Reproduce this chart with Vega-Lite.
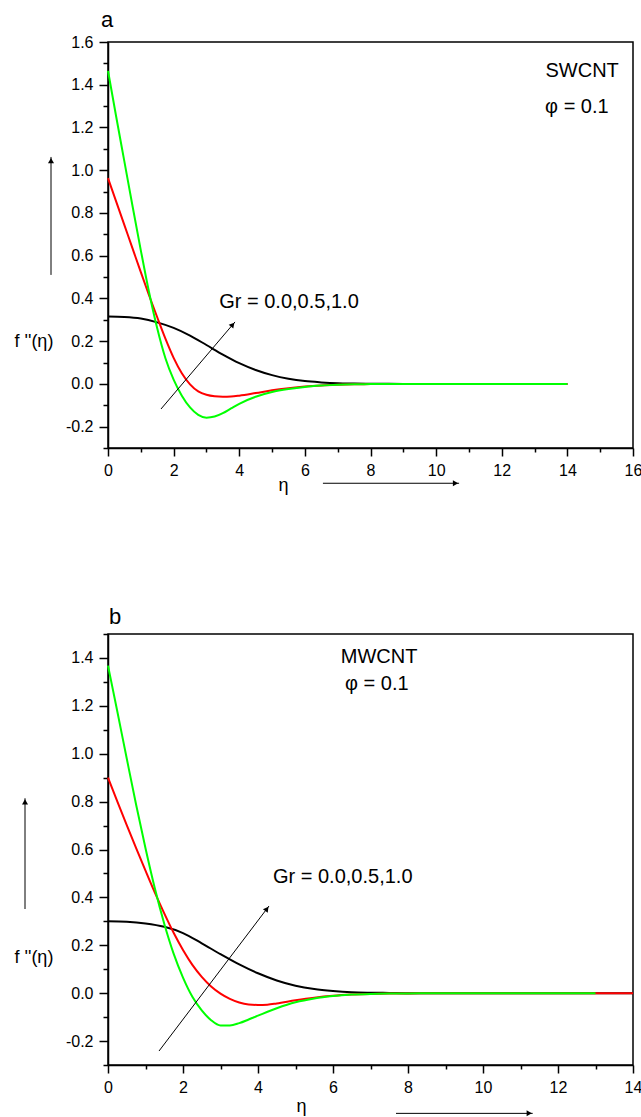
{
  "$schema": "https://vega.github.io/schema/vega-lite/v6.json",
  "padding": {"left": 13, "top": 7, "right": 0, "bottom": 0},
  "background": "white",
  "config": {
    "font": "Liberation Sans",
    "view": {"stroke": "black", "strokeWidth": 1.5},
    "axis": {"grid": false, "domainColor": "black", "domainWidth": 1.5, "tickColor": "black", "tickWidth": 1.5, "labelColor": "black", "labelFontSize": 16, "labelFont": "Liberation Sans", "titleColor": "black", "titleFont": "Liberation Sans", "titleFontWeight": "normal", "titleFontSize": 18, "labelFlush": false, "labelOverlap": false}
  },
  "datasets": {
    "curvesA": [
      {"eta": 0, "Gr": "0.0", "f": 0.315}, {"eta": 0.5, "Gr": "0.0", "f": 0.313}, {"eta": 1.0, "Gr": "0.0", "f": 0.306}, {"eta": 1.5, "Gr": "0.0", "f": 0.288}, {"eta": 2.0, "Gr": "0.0", "f": 0.262}, {"eta": 2.5, "Gr": "0.0", "f": 0.226}, {"eta": 3.0, "Gr": "0.0", "f": 0.182}, {"eta": 3.5, "Gr": "0.0", "f": 0.137}, {"eta": 4.0, "Gr": "0.0", "f": 0.097}, {"eta": 4.5, "Gr": "0.0", "f": 0.065}, {"eta": 5.0, "Gr": "0.0", "f": 0.041}, {"eta": 5.5, "Gr": "0.0", "f": 0.024}, {"eta": 6.0, "Gr": "0.0", "f": 0.013}, {"eta": 6.5, "Gr": "0.0", "f": 0.007}, {"eta": 7.0, "Gr": "0.0", "f": 0.003}, {"eta": 7.5, "Gr": "0.0", "f": 0.0015}, {"eta": 8.0, "Gr": "0.0", "f": 0.0005}, {"eta": 9.0, "Gr": "0.0", "f": 0}, {"eta": 10.0, "Gr": "0.0", "f": 0}, {"eta": 12.0, "Gr": "0.0", "f": 0}, {"eta": 14.0, "Gr": "0.0", "f": 0},
      {"eta": 0, "Gr": "0.5", "f": 0.963}, {"eta": 0.25, "Gr": "0.5", "f": 0.853}, {"eta": 0.5, "Gr": "0.5", "f": 0.743}, {"eta": 0.75, "Gr": "0.5", "f": 0.633}, {"eta": 1.0, "Gr": "0.5", "f": 0.523}, {"eta": 1.25, "Gr": "0.5", "f": 0.415}, {"eta": 1.5, "Gr": "0.5", "f": 0.312}, {"eta": 1.75, "Gr": "0.5", "f": 0.212}, {"eta": 2.0, "Gr": "0.5", "f": 0.122}, {"eta": 2.25, "Gr": "0.5", "f": 0.05}, {"eta": 2.5, "Gr": "0.5", "f": -0.002}, {"eta": 2.75, "Gr": "0.5", "f": -0.035}, {"eta": 3.0, "Gr": "0.5", "f": -0.051}, {"eta": 3.25, "Gr": "0.5", "f": -0.058}, {"eta": 3.5, "Gr": "0.5", "f": -0.06}, {"eta": 3.75, "Gr": "0.5", "f": -0.059}, {"eta": 4.0, "Gr": "0.5", "f": -0.055}, {"eta": 4.5, "Gr": "0.5", "f": -0.043}, {"eta": 5.0, "Gr": "0.5", "f": -0.03}, {"eta": 5.5, "Gr": "0.5", "f": -0.02}, {"eta": 6.0, "Gr": "0.5", "f": -0.012}, {"eta": 6.5, "Gr": "0.5", "f": -0.007}, {"eta": 7.0, "Gr": "0.5", "f": -0.004}, {"eta": 7.5, "Gr": "0.5", "f": -0.002}, {"eta": 8.0, "Gr": "0.5", "f": -0.001}, {"eta": 9.0, "Gr": "0.5", "f": 0}, {"eta": 10.0, "Gr": "0.5", "f": 0}, {"eta": 12.0, "Gr": "0.5", "f": 0}, {"eta": 14.0, "Gr": "0.5", "f": 0},
      {"eta": 0, "Gr": "1.0", "f": 1.465}, {"eta": 0.25, "Gr": "1.0", "f": 1.25}, {"eta": 0.5, "Gr": "1.0", "f": 1.04}, {"eta": 0.75, "Gr": "1.0", "f": 0.83}, {"eta": 1.0, "Gr": "1.0", "f": 0.625}, {"eta": 1.25, "Gr": "1.0", "f": 0.43}, {"eta": 1.5, "Gr": "1.0", "f": 0.26}, {"eta": 1.75, "Gr": "1.0", "f": 0.12}, {"eta": 2.0, "Gr": "1.0", "f": 0.02}, {"eta": 2.25, "Gr": "1.0", "f": -0.055}, {"eta": 2.5, "Gr": "1.0", "f": -0.11}, {"eta": 2.75, "Gr": "1.0", "f": -0.145}, {"eta": 3.0, "Gr": "1.0", "f": -0.158}, {"eta": 3.25, "Gr": "1.0", "f": -0.153}, {"eta": 3.5, "Gr": "1.0", "f": -0.137}, {"eta": 3.75, "Gr": "1.0", "f": -0.115}, {"eta": 4.0, "Gr": "1.0", "f": -0.093}, {"eta": 4.5, "Gr": "1.0", "f": -0.06}, {"eta": 5.0, "Gr": "1.0", "f": -0.038}, {"eta": 5.5, "Gr": "1.0", "f": -0.024}, {"eta": 6.0, "Gr": "1.0", "f": -0.014}, {"eta": 6.5, "Gr": "1.0", "f": -0.008}, {"eta": 7.0, "Gr": "1.0", "f": -0.004}, {"eta": 7.5, "Gr": "1.0", "f": -0.002}, {"eta": 8.0, "Gr": "1.0", "f": -0.001}, {"eta": 9.0, "Gr": "1.0", "f": 0}, {"eta": 10.0, "Gr": "1.0", "f": 0}, {"eta": 12.0, "Gr": "1.0", "f": 0}, {"eta": 14.0, "Gr": "1.0", "f": 0}
    ],
    "curvesB": [
      {"eta": 0, "Gr": "0.0", "f": 0.30}, {"eta": 0.5, "Gr": "0.0", "f": 0.298}, {"eta": 1.0, "Gr": "0.0", "f": 0.291}, {"eta": 1.5, "Gr": "0.0", "f": 0.277}, {"eta": 2.0, "Gr": "0.0", "f": 0.251}, {"eta": 2.5, "Gr": "0.0", "f": 0.208}, {"eta": 3.0, "Gr": "0.0", "f": 0.163}, {"eta": 3.5, "Gr": "0.0", "f": 0.12}, {"eta": 4.0, "Gr": "0.0", "f": 0.083}, {"eta": 4.5, "Gr": "0.0", "f": 0.053}, {"eta": 5.0, "Gr": "0.0", "f": 0.031}, {"eta": 5.5, "Gr": "0.0", "f": 0.017}, {"eta": 6.0, "Gr": "0.0", "f": 0.009}, {"eta": 6.5, "Gr": "0.0", "f": 0.004}, {"eta": 7.0, "Gr": "0.0", "f": 0.002}, {"eta": 7.5, "Gr": "0.0", "f": 0.001}, {"eta": 8.0, "Gr": "0.0", "f": 0}, {"eta": 10.0, "Gr": "0.0", "f": 0}, {"eta": 12.0, "Gr": "0.0", "f": 0}, {"eta": 14.0, "Gr": "0.0", "f": 0},
      {"eta": 0, "Gr": "0.5", "f": 0.90}, {"eta": 0.25, "Gr": "0.5", "f": 0.80}, {"eta": 0.5, "Gr": "0.5", "f": 0.702}, {"eta": 0.75, "Gr": "0.5", "f": 0.606}, {"eta": 1.0, "Gr": "0.5", "f": 0.512}, {"eta": 1.25, "Gr": "0.5", "f": 0.42}, {"eta": 1.5, "Gr": "0.5", "f": 0.333}, {"eta": 1.75, "Gr": "0.5", "f": 0.252}, {"eta": 2.0, "Gr": "0.5", "f": 0.18}, {"eta": 2.25, "Gr": "0.5", "f": 0.118}, {"eta": 2.5, "Gr": "0.5", "f": 0.068}, {"eta": 2.75, "Gr": "0.5", "f": 0.028}, {"eta": 3.0, "Gr": "0.5", "f": -0.002}, {"eta": 3.25, "Gr": "0.5", "f": -0.024}, {"eta": 3.5, "Gr": "0.5", "f": -0.039}, {"eta": 3.75, "Gr": "0.5", "f": -0.047}, {"eta": 4.0, "Gr": "0.5", "f": -0.049}, {"eta": 4.25, "Gr": "0.5", "f": -0.048}, {"eta": 4.5, "Gr": "0.5", "f": -0.043}, {"eta": 5.0, "Gr": "0.5", "f": -0.03}, {"eta": 5.5, "Gr": "0.5", "f": -0.019}, {"eta": 6.0, "Gr": "0.5", "f": -0.011}, {"eta": 6.5, "Gr": "0.5", "f": -0.006}, {"eta": 7.0, "Gr": "0.5", "f": -0.003}, {"eta": 7.5, "Gr": "0.5", "f": -0.0015}, {"eta": 8.0, "Gr": "0.5", "f": -0.001}, {"eta": 9.0, "Gr": "0.5", "f": 0}, {"eta": 10.0, "Gr": "0.5", "f": 0}, {"eta": 12.0, "Gr": "0.5", "f": 0}, {"eta": 14.0, "Gr": "0.5", "f": 0},
      {"eta": 0, "Gr": "1.0", "f": 1.368}, {"eta": 0.25, "Gr": "1.0", "f": 1.175}, {"eta": 0.5, "Gr": "1.0", "f": 0.98}, {"eta": 0.75, "Gr": "1.0", "f": 0.787}, {"eta": 1.0, "Gr": "1.0", "f": 0.605}, {"eta": 1.25, "Gr": "1.0", "f": 0.437}, {"eta": 1.5, "Gr": "1.0", "f": 0.29}, {"eta": 1.75, "Gr": "1.0", "f": 0.165}, {"eta": 2.0, "Gr": "1.0", "f": 0.065}, {"eta": 2.25, "Gr": "1.0", "f": -0.015}, {"eta": 2.5, "Gr": "1.0", "f": -0.072}, {"eta": 2.75, "Gr": "1.0", "f": -0.113}, {"eta": 3.0, "Gr": "1.0", "f": -0.135}, {"eta": 3.25, "Gr": "1.0", "f": -0.135}, {"eta": 3.5, "Gr": "1.0", "f": -0.125}, {"eta": 3.75, "Gr": "1.0", "f": -0.11}, {"eta": 4.0, "Gr": "1.0", "f": -0.094}, {"eta": 4.5, "Gr": "1.0", "f": -0.063}, {"eta": 5.0, "Gr": "1.0", "f": -0.038}, {"eta": 5.5, "Gr": "1.0", "f": -0.022}, {"eta": 6.0, "Gr": "1.0", "f": -0.012}, {"eta": 6.5, "Gr": "1.0", "f": -0.006}, {"eta": 7.0, "Gr": "1.0", "f": -0.003}, {"eta": 7.5, "Gr": "1.0", "f": -0.0015}, {"eta": 8.0, "Gr": "1.0", "f": -0.001}, {"eta": 9.0, "Gr": "1.0", "f": 0}, {"eta": 11.0, "Gr": "1.0", "f": 0}, {"eta": 13.0, "Gr": "1.0", "f": 0}
    ],
    "notesA": [
      {"eta": 14.45, "f": 1.438, "label": "SWCNT"},
      {"eta": 14.29, "f": 1.266, "label": "φ = 0.1"},
      {"eta": 5.516, "f": 0.355, "label": "Gr = 0.0,0.5,1.0"}
    ],
    "panelA": [{"eta": -0.213, "f": 1.672, "label": "a"}],
    "notesB": [
      {"eta": 7.23, "f": 1.38, "label": "MWCNT"},
      {"eta": 7.17, "f": 1.266, "label": "φ = 0.1"},
      {"eta": 6.26, "f": 0.462, "label": "Gr = 0.0,0.5,1.0"}
    ],
    "panelB": [{"eta": 0.027, "f": 1.5405, "label": "b"}],
    "arrowsA": [
      {"eta": 1.615, "f": -0.1175, "eta2": 3.87, "f2": 0.29},
      {"eta": -1.737, "f": 0.51, "eta2": -1.737, "f2": 1.062},
      {"eta": 6.55, "f": -0.465, "eta2": 10.70, "f2": -0.465}
    ],
    "headDiagA": [{"eta": 3.80, "f": 0.277}],
    "headVertA": [{"eta": -1.737, "f": 1.045}],
    "headHorA": [{"eta": 10.59, "f": -0.465}],
    "arrowsB": [
      {"eta": 1.36, "f": -0.2416, "eta2": 4.293, "f2": 0.364},
      {"eta": -2.213, "f": 0.3515, "eta2": -2.213, "f2": 0.814},
      {"eta": 7.68, "f": -0.502, "eta2": 11.325, "f2": -0.502}
    ],
    "headDiagB": [{"eta": 4.237, "f": 0.352}],
    "headVertB": [{"eta": -2.213, "f": 0.799}],
    "headHorB": [{"eta": 11.232, "f": -0.502}]
  },
  "spacing": 186,
  "bounds": "flush",
  "vconcat": [
    {
      "width": 525,
      "height": 406,
      "encoding": {
        "x": {"field": "eta", "type": "quantitative", "scale": {"domain": [0, 16], "nice": false, "zero": false},
          "axis": {"values": [0,1,2,3,4,5,6,7,8,9,10,11,12,13,14,15,16],
            "labelExpr": "datum.value % 2 == 0 ? format(datum.value, 'd') : ''",
            "tickSize": {"condition": {"test": "datum.value % 2 == 0", "value": 8}, "value": 4},
            "labelPadding": 6,
            "title": "η", "titleX": 175, "titleY": 42, "titleAlign": "center", "titleBaseline": "alphabetic"}},
        "y": {"field": "f", "type": "quantitative", "scale": {"domain": [-0.3, 1.6], "nice": false, "zero": false},
          "axis": {"values": [-0.3,-0.2,-0.1,0,0.1,0.2,0.3,0.4,0.5,0.6,0.7,0.8,0.9,1.0,1.1,1.2,1.3,1.4,1.5,1.6],
            "labelExpr": "abs(datum.value*5 - round(datum.value*5)) < 0.001 ? replace(format(datum.value, '.1f'), '\u2212', '-') : ''",
            "tickSize": {"condition": {"test": "abs(datum.value*5 - round(datum.value*5)) < 0.001", "value": 9}, "value": 5},
            "labelPadding": 6,
            "title": "f ''(η)", "titleAngle": 0, "titleX": -94, "titleY": 299, "titleAlign": "left", "titleBaseline": "middle"}}
      },
      "layer": [
        {"data": {"name": "curvesA"}, "mark": {"type": "line", "strokeWidth": 2, "interpolate": "monotone"},
          "encoding": {"color": {"field": "Gr", "type": "nominal", "scale": {"domain": ["0.0", "0.5", "1.0"], "range": ["#000000", "#ff0000", "#00ff00"]}, "legend": null}}},
        {"data": {"name": "arrowsA"}, "mark": {"type": "rule", "color": "black", "strokeWidth": 1},
          "encoding": {"x2": {"field": "eta2"}, "y2": {"field": "f2"}}},
        {"data": {"name": "headDiagA"}, "mark": {"type": "point", "shape": "triangle-up", "filled": true, "color": "black", "opacity": 1, "size": 36, "angle": 40}},
        {"data": {"name": "headVertA"}, "mark": {"type": "point", "shape": "triangle-up", "filled": true, "color": "black", "opacity": 1, "size": 36, "angle": 0}},
        {"data": {"name": "headHorA"}, "mark": {"type": "point", "shape": "triangle-up", "filled": true, "color": "black", "opacity": 1, "size": 36, "angle": 90}},
        {"data": {"name": "notesA"}, "mark": {"type": "text", "fontSize": 20, "align": "center", "baseline": "alphabetic", "color": "black"},
          "encoding": {"text": {"field": "label"}}},
        {"data": {"name": "panelA"}, "mark": {"type": "text", "fontSize": 22, "align": "left", "baseline": "alphabetic", "color": "black"},
          "encoding": {"text": {"field": "label"}}}
      ]
    },
    {
      "width": 525,
      "height": 431,
      "encoding": {
        "x": {"field": "eta", "type": "quantitative", "scale": {"domain": [0, 14], "nice": false, "zero": false},
          "axis": {"values": [0,1,2,3,4,5,6,7,8,9,10,11,12,13,14],
            "labelExpr": "datum.value % 2 == 0 ? format(datum.value, 'd') : ''",
            "tickSize": {"condition": {"test": "datum.value % 2 == 0", "value": 8}, "value": 4},
            "labelPadding": 6,
            "title": "η", "titleX": 193, "titleY": 46, "titleAlign": "center", "titleBaseline": "alphabetic"}},
        "y": {"field": "f", "type": "quantitative", "scale": {"domain": [-0.3, 1.5], "nice": false, "zero": false},
          "axis": {"values": [-0.3,-0.2,-0.1,0,0.1,0.2,0.3,0.4,0.5,0.6,0.7,0.8,0.9,1.0,1.1,1.2,1.3,1.4,1.5],
            "labelExpr": "abs(datum.value*5 - round(datum.value*5)) < 0.001 ? replace(format(datum.value, '.1f'), '\u2212', '-') : ''",
            "tickSize": {"condition": {"test": "abs(datum.value*5 - round(datum.value*5)) < 0.001", "value": 9}, "value": 5},
            "labelPadding": 6,
            "title": "f ''(η)", "titleAngle": 0, "titleX": -94, "titleY": 323, "titleAlign": "left", "titleBaseline": "middle"}}
      },
      "layer": [
        {"data": {"name": "curvesB"}, "mark": {"type": "line", "strokeWidth": 2, "interpolate": "monotone"},
          "encoding": {"color": {"field": "Gr", "type": "nominal", "scale": {"domain": ["0.0", "0.5", "1.0"], "range": ["#000000", "#ff0000", "#00ff00"]}, "legend": null}}},
        {"data": {"name": "arrowsB"}, "mark": {"type": "rule", "color": "black", "strokeWidth": 1},
          "encoding": {"x2": {"field": "eta2"}, "y2": {"field": "f2"}}},
        {"data": {"name": "headDiagB"}, "mark": {"type": "point", "shape": "triangle-up", "filled": true, "color": "black", "opacity": 1, "size": 36, "angle": 37}},
        {"data": {"name": "headVertB"}, "mark": {"type": "point", "shape": "triangle-up", "filled": true, "color": "black", "opacity": 1, "size": 36, "angle": 0}},
        {"data": {"name": "headHorB"}, "mark": {"type": "point", "shape": "triangle-up", "filled": true, "color": "black", "opacity": 1, "size": 36, "angle": 90}},
        {"data": {"name": "notesB"}, "mark": {"type": "text", "fontSize": 20, "align": "center", "baseline": "alphabetic", "color": "black"},
          "encoding": {"text": {"field": "label"}}},
        {"data": {"name": "panelB"}, "mark": {"type": "text", "fontSize": 22, "align": "left", "baseline": "alphabetic", "color": "black"},
          "encoding": {"text": {"field": "label"}}}
      ]
    }
  ],
  "resolve": {"scale": {"color": "shared"}}
}
